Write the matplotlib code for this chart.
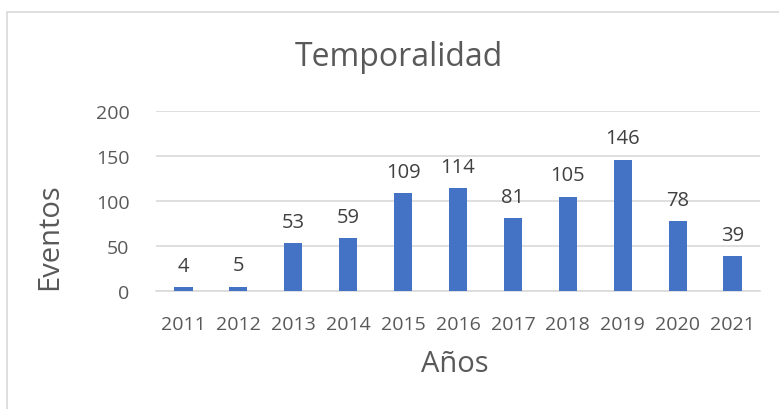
import matplotlib.pyplot as plt
from matplotlib.patches import Rectangle

# datos
anios = ["2011", "2012", "2013", "2014", "2015", "2016", "2017", "2018", "2019", "2020", "2021"]
eventos = [4, 5, 53, 59, 109, 114, 81, 105, 146, 78, 39]

plt.rcParams['font.family'] = ['Open Sans', 'DejaVu Sans']

fig = plt.figure(figsize=(7.79, 4.10), dpi=100)
ax = fig.add_axes([156 / 779, 1 - 292 / 410, (760 - 156) / 779, (292 - 112) / 410])

# marco del grafico
fig.patches.append(Rectangle((6.5 / 779, -0.1), 1.2, (410 - 12.5) / 410 + 0.1,
                             transform=fig.transFigure, fill=False,
                             edgecolor="#d9d9d9", linewidth=1.2))

x = range(len(anios))
ax.bar(x, eventos, width=0.33, color="#4472C4", zorder=3)

for xi, v in zip(x, eventos):
    ax.annotate(str(v), (xi, v), xytext=(0, 8), textcoords="offset points",
                ha="center", va="bottom", fontsize=14.5, color="#404040")

ax.set_ylim(0, 200)
ax.set_xlim(-0.5, len(anios) - 0.5)
ax.set_yticks([0, 50, 100, 150, 200])
ax.set_xticks(list(x))
ax.set_xticklabels(anios)
ax.grid(axis="y", color="#d9d9d9", linewidth=1.2, zorder=0)
for s in ["top", "right", "left"]:
    ax.spines[s].set_visible(False)
ax.spines["bottom"].set_color("#d9d9d9")
ax.spines["bottom"].set_linewidth(1.2)
ax.tick_params(axis="both", length=0, colors="#595959", labelsize=14)
ax.tick_params(axis="y", pad=19)
ax.tick_params(axis="x", pad=17)

fig.text(399 / 779, 1 - 57 / 410, "Temporalidad", fontsize=23, color="#595959",
         ha="center", va="center")
fig.text(50 / 779, 1 - 237 / 410, "Eventos", fontsize=21, color="#595959",
         ha="center", va="center", rotation=90)
fig.text(455 / 779, 1 - 365 / 410, "Años", fontsize=21, color="#595959",
         ha="center", va="center")

fig.savefig("out.png", dpi=100)
